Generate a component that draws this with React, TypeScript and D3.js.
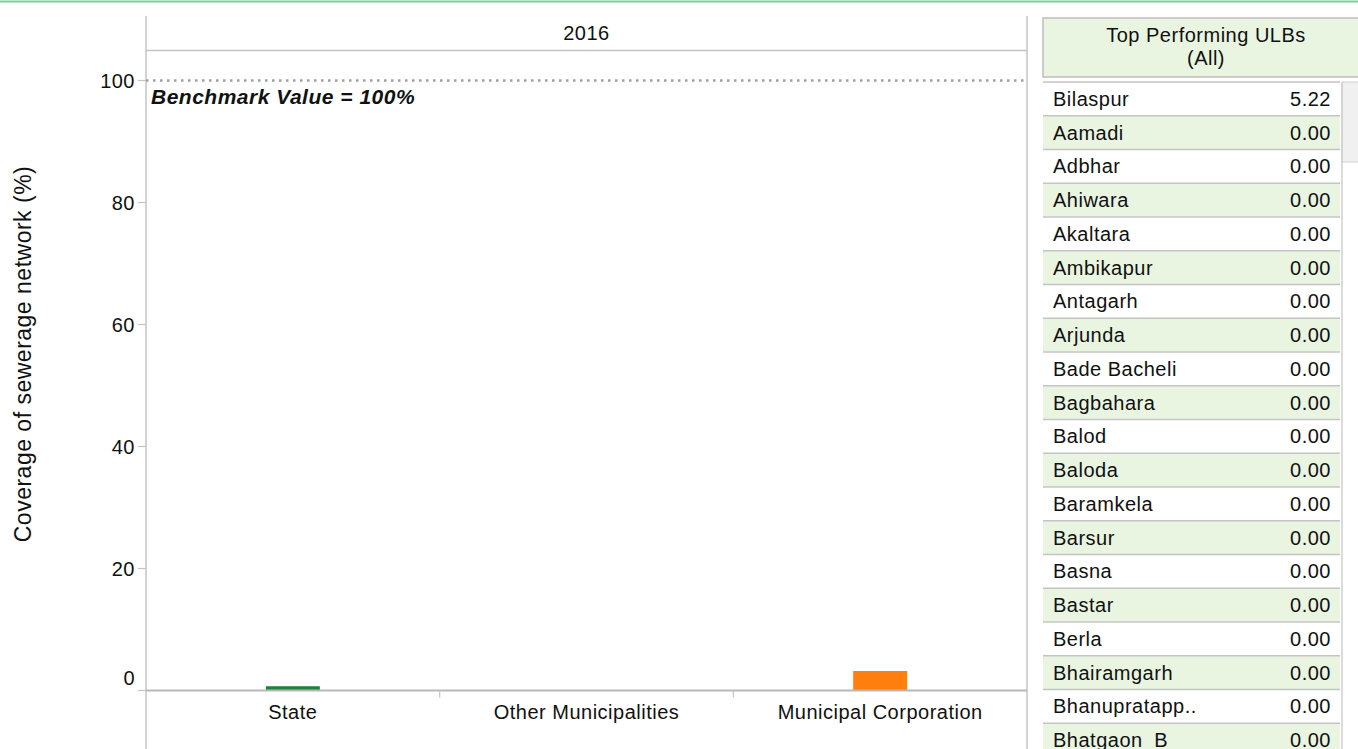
import React from "react";
import * as d3 from "d3";

const categories = ["State", "Other Municipalities", "Municipal Corporation"];
const values = [0.7, 0, 3.2];
const barColors = ["#22803a", "#22803a", "#ff7f0e"];
const yTicks = [0, 20, 40, 60, 80, 100];
const benchmark = 100;
const yearLabel = "2016";
const ulbNames = [
  "Bilaspur", "Aamadi", "Adbhar", "Ahiwara", "Akaltara", "Ambikapur", "Antagarh",
  "Arjunda", "Bade Bacheli", "Bagbahara", "Balod", "Baloda", "Baramkela", "Barsur",
  "Basna", "Bastar", "Berla", "Bhairamgarh", "Bhanupratapp..", "Bhatgaon_B",
];
const ulbValues = [5.22, 0, 0, 0, 0, 0, 0, 0, 0, 0, 0, 0, 0, 0, 0, 0, 0, 0, 0, 0];

const W = 1358, H = 749;
const FONT = "Arial, 'Liberation Sans', sans-serif";
const FS = 20;
const LS = 0.5;
const TXT = "#111";

export default function App() {
  const left = 146, right = 1027;
  const x = d3.scaleBand().domain(categories).range([left, right]).padding(0);
  const y = d3.scaleLinear().domain([0, 100]).range([690.5, 80.5]);
  const barW = 54;
  const rowTop = 82, rowH = 33.75, rowL = 1043, rowR = 1340;
  const rows = d3.range(ulbNames.length);
  const fmt = d3.format(".2f");
  const frame = "#c4c4c4";

  return (
    <div style={{ position: "fixed", left: 0, top: 0, width: W, height: H, background: "#fff" }}>
      <svg width={W} height={H} style={{ display: "block" }} fontFamily={FONT} letterSpacing={LS}>
        <rect width={W} height={H} fill="#fff" />
        <line x1={0} x2={W} y1={1.5} y2={1.5} stroke="#7fcf90" strokeWidth={2} />

        {/* panel frame */}
        <line x1={left} x2={left} y1={16} y2={H} stroke={frame} strokeWidth={1.5} />
        <line x1={right} x2={right} y1={16} y2={H} stroke={frame} strokeWidth={1.5} />
        <line x1={left} x2={right} y1={50.5} y2={50.5} stroke={frame} strokeWidth={1.5} />
        <text x={(left + right) / 2} y={33} fontSize={FS} textAnchor="middle" dominantBaseline="central" fill={TXT}>{yearLabel}</text>

        {/* y axis */}
        {yTicks.map((t) => (
          <g key={t}>
            <line x1={138} x2={left} y1={y(t)} y2={y(t)} stroke={frame} strokeWidth={1.2} />
            <text x={135} y={t === 0 ? y(t) - 13 : y(t)} fontSize={FS} textAnchor="end" dominantBaseline="central" fill={TXT}>{t}</text>
          </g>
        ))}
        <text transform={`translate(23,354) rotate(-90)`} fontSize={23} textAnchor="middle" dominantBaseline="central" fill={TXT}>
          Coverage of sewerage network (%)
        </text>

        {/* benchmark */}
        <line x1={left} x2={right} y1={y(benchmark)} y2={y(benchmark)} stroke="#a0a0a0" strokeWidth={2.5} strokeDasharray="2.5,4.5" />
        <text x={151} y={y(benchmark) + 16} fontSize={21} fontWeight="bold" fontStyle="italic" dominantBaseline="central" fill={TXT}>
          Benchmark Value = 100%
        </text>

        {/* bars */}
        {categories.map((c, i) => (
          <rect key={c} x={(x(c) as number) + x.bandwidth() / 2 - barW / 2} y={y(values[i])} width={barW}
            height={y(0) - y(values[i])} fill={barColors[i]} />
        ))}

        {/* x axis */}
        <line x1={left} x2={right} y1={y(0)} y2={y(0)} stroke="#b8b8b8" strokeWidth={1.8} />
        {categories.slice(1).map((c) => (
          <line key={c} x1={x(c) as number} x2={x(c) as number} y1={y(0)} y2={y(0) + 7} stroke={frame} strokeWidth={1.2} />
        ))}
        {categories.map((c) => (
          <text key={c} x={(x(c) as number) + x.bandwidth() / 2} y={712} fontSize={FS} textAnchor="middle" dominantBaseline="central" fill={TXT}>{c}</text>
        ))}

        {/* table header */}
        <rect x={1043} y={18} width={320} height={59} fill="#e9f5e1" stroke="#bdbdbd" strokeWidth={1.5} />
        <text x={1206} y={35} fontSize={FS} textAnchor="middle" dominantBaseline="central" fill={TXT}>Top Performing ULBs</text>
        <text x={1206} y={58} fontSize={FS} textAnchor="middle" dominantBaseline="central" fill={TXT}>(All)</text>

        {/* table rows */}
        {rows.map((i) => (
          <g key={i}>
            <rect x={rowL} y={rowTop + i * rowH} width={rowR - rowL} height={rowH} fill={i % 2 === 1 ? "#e9f5e1" : "#fff"} />
            <line x1={rowL} x2={rowR} y1={rowTop + i * rowH} y2={rowTop + i * rowH} stroke="#c4c4c4" strokeWidth={1.6} />
            <text x={1053} y={rowTop + i * rowH + rowH / 2} fontSize={FS} dominantBaseline="central" fill={TXT}>{ulbNames[i]}</text>
            <text x={1331} y={rowTop + i * rowH + rowH / 2} fontSize={FS} textAnchor="end" dominantBaseline="central" fill={TXT}>{fmt(ulbValues[i])}</text>
          </g>
        ))}

        {/* scrollbar */}
        <rect x={1342} y={82} width={18} height={80} fill="#f0f0f0" stroke="#cfcfcf" strokeWidth={1} />
        <line x1={1342} x2={1342} y1={82} y2={H} stroke="#cfcfcf" strokeWidth={1.5} />
      </svg>
    </div>
  );
}
